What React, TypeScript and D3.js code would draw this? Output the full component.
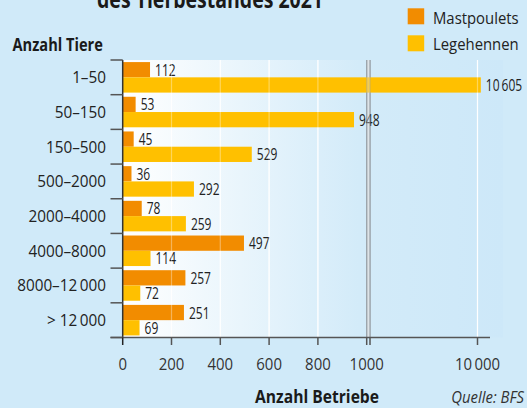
import React from "react";
import * as d3 from "d3";

const categories = ["1–50", "50–150", "150–500", "500–2000", "2000–4000", "4000–8000", "8000–12\u2009000", "> 12\u2009000"];
const mastpoulets = [112, 53, 45, 36, 78, 497, 257, 251];
const legehennen = [10605, 948, 529, 292, 259, 114, 72, 69];
const seriesNames = ["Mastpoulets", "Legehennen"];
const seriesColors = ["#f28c00", "#ffc000"];
const lowTicks = [0, 200, 400, 600, 800, 1000];
const highTicks = [10000];

const W = 527;
const H = 408;
const FONT = "'Open Sans', 'DejaVu Sans Condensed', sans-serif";

const fmt = (v: number) => (v >= 10000 ? d3.format(",")(v).replace(/,/g, "\u2009") : String(v));

type TProps = {
  x: number;
  y: number;
  sx?: number;
  anchor?: "start" | "middle" | "end";
  size: number;
  weight?: string;
  italic?: boolean;
  fill?: string;
  children: React.ReactNode;
};

function T({ x, y, sx = 1, anchor = "start", size, weight = "normal", italic = false, fill = "#222", children }: TProps) {
  return (
    <text
      transform={`translate(${x},${y}) scale(${sx},1)`}
      textAnchor={anchor}
      fontSize={size}
      fontWeight={weight}
      fontStyle={italic ? "italic" : "normal"}
      fill={fill}
    >
      {children}
    </text>
  );
}

export default function App() {
  const x0 = 122.7;
  const xLow = d3.scaleLinear().domain([0, 1000]).range([x0, 366.7]);
  const breakX2 = 370;
  const xHigh = d3.scaleLinear().domain([10000, 11000]).range([477.5, 483]);
  const xv = (v: number) => (v <= 1000 ? xLow(v) : xHigh(v));

  const top = 60;
  const bottom = 337.5;
  const y = d3.scaleBand<string>().domain(categories).range([top, bottom]).paddingInner(0.12).paddingOuter(0.06);
  const ys = d3.scaleBand<string>().domain(seriesNames).range([0, y.bandwidth()]).padding(0);
  const step = y.step();
  const boundaries = d3.range(categories.length + 1).map((i) => top + i * step);

  const plotRight = 503;
  const series = [mastpoulets, legehennen];
  const gridVals = [200, 400, 600, 800];

  const gridLines = (opacity: number) => (
    <g>
      {gridVals.map((v) => (
        <line key={v} x1={xLow(v)} x2={xLow(v)} y1={top} y2={bottom} stroke="#ffffff" strokeOpacity={opacity} strokeWidth={1.2} />
      ))}
      {highTicks.map((v) => (
        <line key={v} x1={xHigh(v)} x2={xHigh(v)} y1={top} y2={bottom} stroke="#ffffff" strokeOpacity={opacity} strokeWidth={1.2} />
      ))}
      <rect x={xLow(1000)} y={top} width={breakX2 - xLow(1000)} height={bottom - top} fill="#dde3e7" fillOpacity={opacity} />
      <line x1={xLow(1000)} x2={xLow(1000)} y1={top} y2={bottom} stroke="#98a1a8" strokeOpacity={opacity} strokeWidth={1.4} />
      <line x1={breakX2} x2={breakX2} y1={top} y2={bottom} stroke="#98a1a8" strokeOpacity={opacity} strokeWidth={1.4} />
    </g>
  );

  return (
    <svg width={W} height={H} style={{ position: "absolute", left: 0, top: 0, fontFamily: FONT }}>
      <defs>
        <linearGradient id="plotbg" x1="0" x2="1" y1="0" y2="0">
          <stop offset="0" stopColor="#ffffff" />
          <stop offset="0.62" stopColor="#d3ebf9" />
          <stop offset="1" stopColor="#cde8f9" />
        </linearGradient>
      </defs>
      <rect x={0} y={0} width={W} height={H} fill="#d0eaf9" />
      <T x={210} y={8} sx={0.78} anchor="middle" size={25} weight="bold" fill="#1a1a1a">
        des Tierbestandes 2021
      </T>
      {seriesNames.map((s, i) => (
        <g key={s}>
          <rect x={407.7} y={8.3 + i * 27} width={16.5} height={16} fill={seriesColors[i]} />
          <T x={433} y={24 + i * 26} sx={0.93} size={16} fill="#222">
            {s}
          </T>
        </g>
      ))}
      <T x={12.5} y={51} sx={0.86} size={17} weight="bold" fill="#1a1a1a">
        Anzahl Tiere
      </T>

      <rect x={x0} y={top} width={plotRight - x0} height={bottom - top} fill="url(#plotbg)" />
      {gridLines(1)}

      {categories.map((c, ci) => (
        <g key={c}>
          {series.map((vals, si) => {
            const by = (y(c) as number) + (ys(seriesNames[si]) as number);
            const bh = ys.bandwidth();
            const xe = xv(vals[ci]);
            return (
              <g key={si}>
                <rect x={x0} y={by} width={xe - x0} height={bh} fill={seriesColors[si]} />
                <T x={xe + 5} y={by + bh / 2 + 6} sx={0.75} size={16} fill="#222">
                  {fmt(vals[ci])}
                </T>
              </g>
            );
          })}
          <T x={106} y={(y(c) as number) + y.bandwidth() / 2 + 6} sx={0.9} anchor="end" size={17} fill="#222">
            {c}
          </T>
        </g>
      ))}

      {gridLines(0.35)}

      {/* y axis */}
      <line x1={x0} x2={x0} y1={top} y2={bottom} stroke="#333" strokeWidth={1.5} />
      {boundaries.map((b, i) => (
        <line key={i} x1={110.5} x2={x0} y1={b} y2={b} stroke="#555" strokeWidth={1.5} />
      ))}
      {/* x axis */}
      <line x1={110.5} x2={490} y1={bottom} y2={bottom} stroke="#555" strokeWidth={1.5} />
      {lowTicks.map((t) => (
        <g key={t}>
          <line x1={xLow(t)} x2={xLow(t)} y1={bottom} y2={bottom + 7.5} stroke={t === 0 ? "#222" : "#555"} strokeWidth={1.5} />
          <T x={xLow(t)} y={370} sx={0.88} anchor="middle" size={17} fill="#333">
            {fmt(t)}
          </T>
        </g>
      ))}
      <line x1={breakX2} x2={breakX2} y1={bottom} y2={bottom + 7.5} stroke="#555" strokeWidth={1.5} />
      {highTicks.map((t) => (
        <g key={t}>
          <line x1={xHigh(t)} x2={xHigh(t)} y1={bottom} y2={bottom + 7.5} stroke="#555" strokeWidth={1.5} />
          <T x={xHigh(t)} y={370} sx={0.88} anchor="middle" size={17} fill="#333">
            {fmt(t)}
          </T>
        </g>
      ))}
      <T x={255} y={403} sx={0.92} size={17} weight="bold" fill="#1a1a1a">
        Anzahl Betriebe
      </T>
      <T x={524} y={403} sx={0.93} anchor="end" size={16} italic fill="#333">
        Quelle: BFS
      </T>
    </svg>
  );
}
